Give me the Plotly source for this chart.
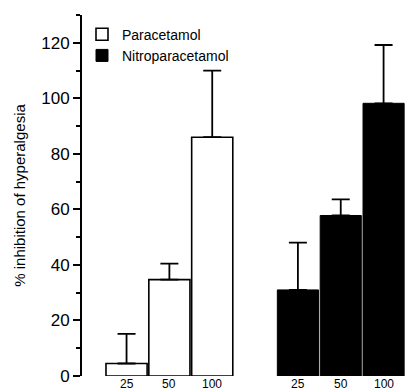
import plotly.graph_objects as go

doses = ["25", "50", "100"]
para_vals = [4.5, 34.7, 86.0]
para_err = [10.7, 5.8, 24.0]
nitro_vals = [31.0, 57.8, 98.2]
nitro_err = [17.0, 5.8, 21.0]
y_ticks = [0, 20, 40, 60, 80, 100, 120]

para_x = [0, 1, 2]
nitro_x = [4, 5, 6]

fig = go.Figure()
fig.add_trace(go.Bar(
    x=para_x, y=para_vals, name="Paracetamol",
    marker=dict(color="white", line=dict(color="black", width=1.6)),
    error_y=dict(type="data", symmetric=False, array=para_err,
                 arrayminus=[0, 0, 0], color="black", thickness=1.8, width=9),
))
fig.add_trace(go.Bar(
    x=nitro_x, y=nitro_vals, name="Nitroparacetamol",
    marker=dict(color="black", line=dict(color="black", width=1)),
    error_y=dict(type="data", symmetric=False, array=nitro_err,
                 arrayminus=[0, 0, 0], color="black", thickness=1.8, width=9),
))

# dose labels under each bar (placed as annotations so they stay inside the frame)
for xs in (para_x, nitro_x):
    for xv, lab in zip(xs, doses):
        fig.add_annotation(x=xv, xref="x", y=0, yref="paper", yanchor="top",
                           yshift=1, text=lab, showarrow=False,
                           font=dict(size=12, family="Liberation Sans, Arial", color="black"))

fig.update_layout(
    width=406, height=390,
    margin=dict(l=82, r=1, t=15, b=14),
    paper_bgcolor="white", plot_bgcolor="white",
    bargap=0.04,
    showlegend=True,
    legend=dict(x=0.0, y=0.99, xanchor="left", yanchor="top",
                font=dict(family="Liberation Sans, Arial", size=14, color="black"),
                bgcolor="rgba(0,0,0,0)", tracegroupgap=0, itemwidth=30),
    font=dict(family="Liberation Sans, Arial", color="black"),
)
fig.update_xaxes(
    range=[-1.04, 6.5],
    showticklabels=False,
    showline=False, showgrid=False, zeroline=False, ticks="",
    automargin=False,
)
fig.update_yaxes(
    range=[0, 130],
    tickmode="array", tickvals=y_ticks,
    showline=True, linecolor="black", linewidth=2,
    ticks="outside", ticklen=7, tickwidth=2, tickcolor="black",
    minor=dict(tickmode="array", tickvals=[10, 30, 50, 70, 90, 110, 130],
               ticks="outside", ticklen=4, tickwidth=2, tickcolor="black"),
    showgrid=False, zeroline=False,
    tickfont=dict(size=17, family="Liberation Sans, Arial", color="black"),
    title=dict(text="% inhibition of hyperalgesia",
               font=dict(size=15, family="Liberation Sans, Arial", color="black"),
               standoff=12),
    automargin=False,
)

fig.write_html("out.html", config={"displayModeBar": False},
               post_script="document.body.style.margin='0';")
